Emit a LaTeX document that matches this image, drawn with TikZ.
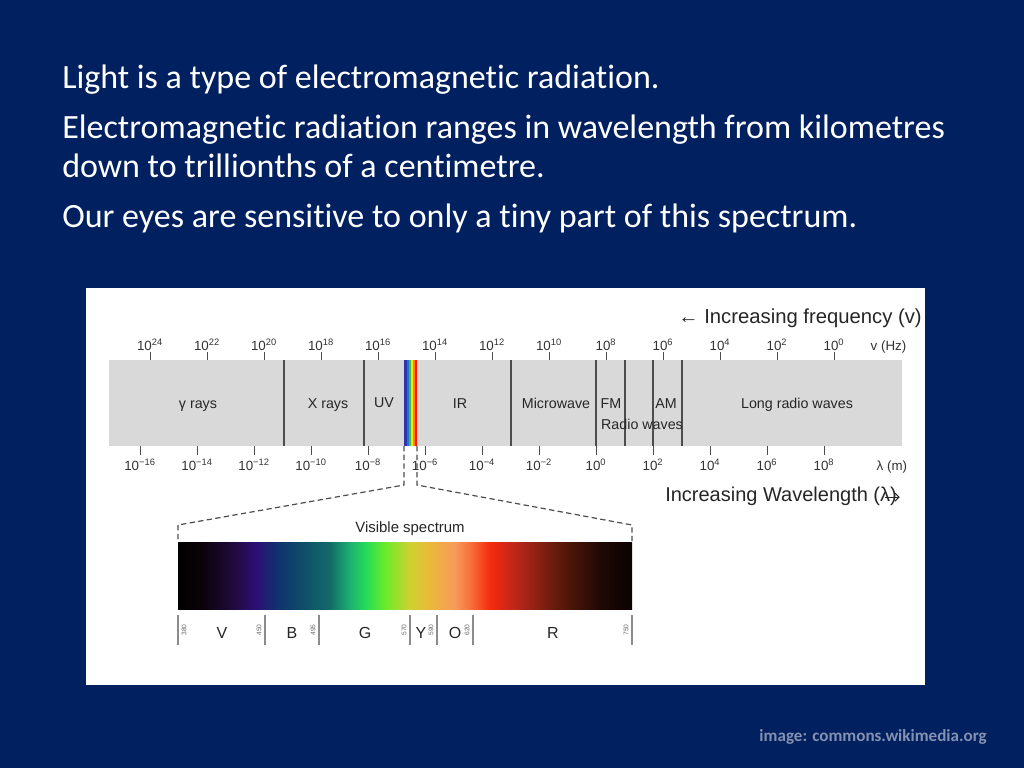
\documentclass[tikz,border=0pt]{standalone}
\usepackage{fontspec}
\setmainfont{Carlito}[Ligatures={NoCommon}]
\newfontfamily\arialfont{Liberation Sans}
\usepackage{tikz}
\usetikzlibrary{positioning,calc,arrows.meta}

\definecolor{slideblue}{HTML}{002060}
\definecolor{bandgray}{HTML}{D9D9D9}
\definecolor{lineGray}{HTML}{4D4D4D}
\definecolor{footgray}{HTML}{8591B0}
% colours of the visible spectrum
\definecolor{vsA}{HTML}{0A0208}
\definecolor{vsB}{HTML}{1E0A35}
\definecolor{vsC}{HTML}{2E0F78}
\definecolor{vsD}{HTML}{10306E}
\definecolor{vsE}{HTML}{0F4A6A}
\definecolor{vsF}{HTML}{136B68}
\definecolor{vsG}{HTML}{1CB070}
\definecolor{vsH}{HTML}{23DA5A}
\definecolor{vsI}{HTML}{6BEB2A}
\definecolor{vsJ}{HTML}{D0D030}
\definecolor{vsK}{HTML}{EBB83A}
\definecolor{vsL}{HTML}{F79A5A}
\definecolor{vsM}{HTML}{F7703A}
\definecolor{vsN}{HTML}{F52A0F}
\definecolor{vsO}{HTML}{B0261A}
\definecolor{vsP}{HTML}{5A1A0A}
\definecolor{vsQ}{HTML}{200805}
\definecolor{vsR}{HTML}{0A0202}
\pgfdeclarehorizontalshading{visible}{100bp}{color(0bp)=(black); color(25bp)=(black);
  color(27.4bp)=(vsA); color(30.7bp)=(vsB); color(33.7bp)=(vsC); color(35.7bp)=(vsD);
  color(38.4bp)=(vsE); color(41.7bp)=(vsF); color(43.9bp)=(vsG); color(45.6bp)=(vsH);
  color(47.8bp)=(vsI); color(50.6bp)=(vsJ); color(52.8bp)=(vsK); color(55.5bp)=(vsL);
  color(57.2bp)=(vsM); color(59.4bp)=(vsN); color(62.7bp)=(vsO); color(67.1bp)=(vsP);
  color(71.5bp)=(vsQ); color(75bp)=(vsR); color(100bp)=(vsR)}

\begin{document}
\begin{tikzpicture}[x=0.75pt, y=-0.75pt, >=latex,
    slidetext/.style={anchor=base west, inner sep=0pt, text=white, font=\fontsize{25.5}{29}\selectfont},
    bandlabel/.style={anchor=base, text=black!85, font=\arialfont\fontsize{10.7}{12}\selectfont},
    ticklabel/.style={anchor=base, text=black!80, font=\arialfont\fontsize{10}{12}\selectfont},
    divider/.style={lineGray, line width=1.1pt},
    tickmark/.style={lineGray, line width=0.7pt},
    vislabel/.style={text=black!85, font=\arialfont\fontsize{12}{14}\selectfont},
    nmlabel/.style={rotate=90, text=black!60, font=\arialfont\fontsize{5}{6}\selectfont},
    zoomline/.style={lineGray, line width=0.9pt, dash pattern=on 4pt off 2.5pt}]

  % Background and frame
  \fill[slideblue] (0,0) rectangle (1024,768);
  \useasboundingbox (0,0) rectangle (1024,768);
  \fill[white] (86,288) rectangle (925,685);

  % Slide text
  \node[slidetext] (line1) at (62,88) {Light is a type of electromagnetic radiation.};
  \node[slidetext] (line2) at (62,138) {Electromagnetic radiation ranges in wavelength from kilometres};
  \node[slidetext] (line3) at (62,177) {down to trillionths of a centimetre.};
  \node[slidetext] (line4) at (62,227) {Our eyes are sensitive to only a tiny part of this spectrum.};

  % Spectrum band
  \fill[bandgray] (109,360) rectangle (902,446);
  \foreach \c/\a/\b in {blue!60!black!80!white/404/407, cyan!60!blue/407/409, green!60!black!70!white/409/411,
                        yellow!85!orange/411/412.5, orange/412.5/414.5, red!85!orange/414.5/417}
    \fill[\c] (\a,360) rectangle (\b,446);
  \foreach \x in {284,364,511,596,625,653,682}
    \draw[divider] (\x,360) -- (\x,446);

  % Frequency ticks
  \foreach \e [count=\i from 0] in {24,22,20,18,16,14,12,10,8,6,4,2,0} {
    \draw[tickmark] (150+57*\i,352) -- (150+57*\i,360);
    \node[ticklabel] (ftick\i) at (150+57*\i,350) {10\textsuperscript{\e}};
  }
  \node[ticklabel, anchor=base west] (hz) at (866,350) {v (Hz)};

  % Wavelength ticks
  \foreach \e [count=\i from 0] in {−16,−14,−12,−10,−8,−6,−4,−2,0,2,4,6,8} {
    \draw[tickmark] (140+57*\i,446) -- (140+57*\i,455);
    \node[ticklabel] (wtick\i) at (140+57*\i,470) {10\textsuperscript{\e}};
  }
  \node[ticklabel, anchor=base west] (metre) at (872,470) {λ (m)};

  % Band names
  \node[bandlabel] (gamma) at (198,408) {γ rays};
  \node[bandlabel] (xray) at (328,408) {X rays};
  \node[bandlabel] (uv) at (384,407) {UV};
  \node[bandlabel] (ir) at (460,408) {IR};
  \node[bandlabel] (micro) at (556,408) {Microwave};
  \node[bandlabel] (fm) at (611,408) {FM};
  \node[bandlabel] (am) at (666,408) {AM};
  \node[bandlabel] (radio) at (642,429) {Radio waves};
  \node[bandlabel] (longradio) at (797,408) {Long radio waves};

  % Direction labels
  \node[anchor=base east, inner sep=0pt, text=black!85, font=\arialfont\fontsize{15.2}{17}\selectfont] (freq) at (922,323)
    {← Increasing frequency (v)};
  \node[anchor=base west, inner sep=0pt, text=black!85, font=\arialfont\fontsize{15}{17}\selectfont] (wave) at (665,501)
    {Increasing Wavelength (λ)};
  \draw[->, black!85, line width=0.8pt, >={Straight Barb[length=3pt]}] ([xshift=-9pt,yshift=-1pt]wave.east) -- ([xshift=2pt,yshift=-1pt]wave.east);

  % Zoom onto the visible part
  \coordinate (stripL) at (404,446);
  \coordinate (stripR) at (417,446);
  \coordinate (visL) at (178,541);
  \coordinate (visR) at (632,541);
  \draw[zoomline] (stripL) -- ++(0,39) -- (178,525) -- (visL);
  \draw[zoomline] (stripR) -- ++(0,39) -- (632,525) -- (visR);
  \node[bandlabel, anchor=center, font=\arialfont\fontsize{11.2}{13}\selectfont] (vistitle) at (410,529) {Visible spectrum};

  % Visible spectrum bar
  \shade[shading=visible] (178,542) rectangle (632,609);

  % Colour borders in nm
  \foreach \x/\n/\d in {178/380/6, 265/450/-6, 319/495/-6, 410/570/-6, 437/590/-6, 473/620/-6, 632/750/-6} {
    \draw[black!45, line width=0.9pt] (\x,615) -- (\x,645);
    \node[nmlabel] (nm\n) at (\x+\d,630) {\n};
  }
  \node[vislabel] (violet) at (222,633) {V};
  \node[vislabel] (blue) at (292,633) {B};
  \node[vislabel] (green) at (365,633) {G};
  \node[vislabel] (yellow) at (421,633) {Y};
  \node[vislabel] (orange) at (455,633) {O};
  \node[vislabel] (red) at (553,633) {R};

  % Source
  \node[anchor=base east, inner sep=0pt, text=footgray, font=\bfseries\fontsize{12.8}{14}\selectfont] (source) at (987,741)
    {image: commons.wikimedia.org};
\end{tikzpicture}
\end{document}
